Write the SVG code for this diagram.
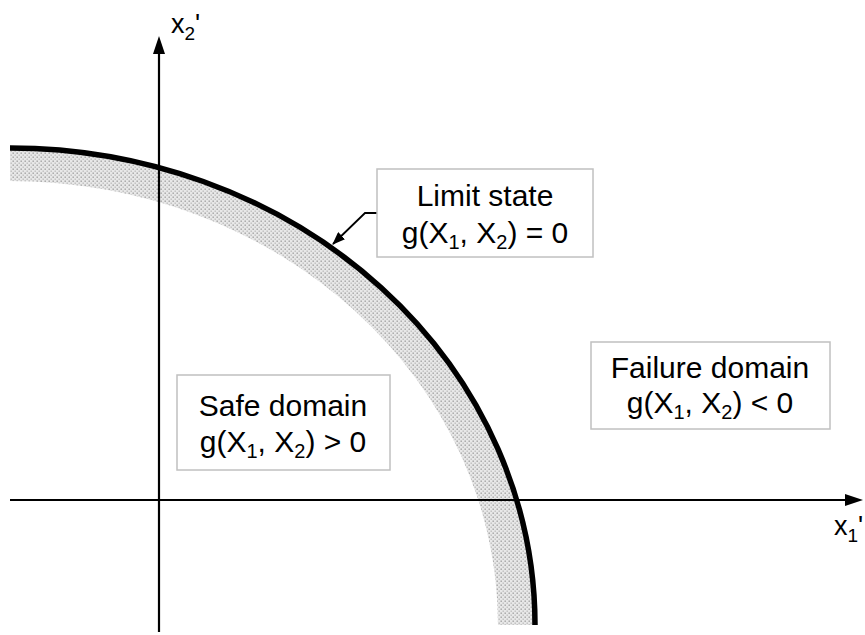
<svg xmlns="http://www.w3.org/2000/svg" width="865" height="635" viewBox="0 0 865 635">
<style>
.t{font-family:"Liberation Sans",Arial,sans-serif;font-size:30px;fill:#000;text-anchor:middle}
.ax{font-family:"Liberation Sans",Arial,sans-serif;font-size:27px;fill:#000}
.box{fill:#fff;stroke:#c0c0c0;stroke-width:1.5}
.axis{stroke:#000;stroke-width:2.2;fill:none}
</style>
<defs>
<pattern id="dots" width="4" height="4" patternUnits="userSpaceOnUse">
<rect width="4" height="4" fill="#e8e8e8"/>
<rect x="0.5" y="0.5" width="1.4" height="1.4" fill="#a0a0a0"/>
<rect x="2.5" y="2.5" width="1.4" height="1.4" fill="#bcbcbc"/>
</pattern>
<marker id="ah" markerWidth="13" markerHeight="10" refX="12" refY="5" orient="auto" markerUnits="userSpaceOnUse">
<path d="M0,0 L13,5 L0,10 Z" fill="#000"/>
</marker>
</defs>
<g id="band">
<path d="M10,148 A525,477 0 0 1 535,625 L498,625 A488,444 0 0 0 10,181 Z" fill="url(#dots)"/>
</g>
<g id="axes">
<line class="axis" x1="159" y1="632" x2="159" y2="52"/>
<path d="M159,36 L153,54 L165,54 Z" fill="#000"/>
<line class="axis" x1="10" y1="500" x2="846" y2="500"/>
<path d="M863,500 L845,494 L845,506 Z" fill="#000"/>
<text class="ax" x="171" y="33">x<tspan font-size="19" dy="7">2</tspan><tspan dy="-7">'</tspan></text>
<text class="ax" x="834" y="535">x<tspan font-size="19" dy="7">1</tspan><tspan dy="-7">'</tspan></text>
</g>
<g id="limit-curve">
<path d="M10,148 A525,477 0 0 1 535,625" fill="none" stroke="#000" stroke-width="5.5"/>
</g>
<g id="connectors">
<polyline points="377,213 365,213 333,244" fill="none" stroke="#000" stroke-width="1.8" marker-end="url(#ah)"/>
</g>
<g id="limit-state">
<rect class="box" x="377" y="169" width="216" height="88"/>
<text class="t" x="485" y="206">Limit state</text>
<text class="t" x="485" y="243">g(X<tspan font-size="20" dy="6">1</tspan><tspan dy="-6">, X</tspan><tspan font-size="20" dy="6">2</tspan><tspan dy="-6">) = 0</tspan></text>
</g>
<g id="safe-domain">
<rect class="box" x="177" y="375" width="213" height="95"/>
<text class="t" x="283" y="416">Safe domain</text>
<text class="t" x="283" y="452">g(X<tspan font-size="20" dy="6">1</tspan><tspan dy="-6">, X</tspan><tspan font-size="20" dy="6">2</tspan><tspan dy="-6">) &gt; 0</tspan></text>
</g>
<g id="failure-domain">
<rect class="box" x="591" y="342" width="239" height="87"/>
<text class="t" x="710" y="378">Failure domain</text>
<text class="t" x="710" y="413">g(X<tspan font-size="20" dy="6">1</tspan><tspan dy="-6">, X</tspan><tspan font-size="20" dy="6">2</tspan><tspan dy="-6">) &lt; 0</tspan></text>
</g>
</svg>
